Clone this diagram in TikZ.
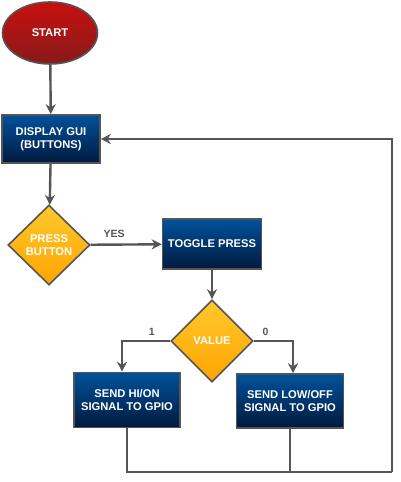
\documentclass[tikz,border=0pt]{standalone}
\usepackage{fontspec}
\setmainfont{Liberation Sans}
\definecolor{lineGray}{RGB}{85, 85, 85}
\definecolor{startTop}{RGB}{200, 16, 16}
\definecolor{startBot}{RGB}{135, 26, 26}
\definecolor{boxTop}{RGB}{0, 82, 156}
\definecolor{boxBot}{RGB}{0, 26, 62}
\definecolor{decTop}{RGB}{255, 200, 45}
\definecolor{decBot}{RGB}{255, 165, 0}
\usetikzlibrary{shapes.geometric, arrows.meta, positioning}

\begin{document}
\begin{tikzpicture}[
        x=1pt, y=1pt,
        txt/.style={text=white, font=\fontsize{11.2}{13.2}\selectfont\bfseries, align=center},
        startnode/.style={txt, ellipse, draw=lineGray, line width=1.6pt,
                    top color=startTop, bottom color=startBot,
                    minimum width=95pt, minimum height=62pt, inner sep=0pt},
        procbox/.style={txt, draw=lineGray, line width=1.6pt,
                    top color=boxTop, bottom color=boxBot, inner sep=0pt},
        decision/.style={txt, diamond, draw=lineGray, line width=1.6pt,
                    top color=decTop, bottom color=decBot, inner sep=0pt},
        lbl/.style={text=lineGray, font=\fontsize{10.5}{12}\selectfont\bfseries},
        arrow/.style={-{Stealth[length=10pt, width=10pt]}, line width=2.4pt, draw=lineGray},
        wire/.style={line width=2.4pt, draw=lineGray}
    ]
        \useasboundingbox (0,0) rectangle (400,482);

        % Start and main loop entry
        \node[startnode] (start) at (50,449) {START};
        \node[procbox, minimum width=98pt, minimum height=48pt] (display) at (51,343)
            {DISPLAY GUI\\(BUTTONS)};

        % Button decision
        \node[decision, minimum width=82pt, minimum height=80pt] (press) at (49,237)
            {PRESS\\BUTTON};
        \node[procbox, minimum width=99pt, minimum height=50pt] (toggle) at (212,238)
            {TOGGLE PRESS};
        \node[decision, minimum width=82pt, minimum height=82pt] (value) at (212,141)
            {VALUE};

        % Output boxes
        \node[procbox, minimum width=106pt, minimum height=55pt] (sendhi) at (127,82)
            {SEND HI/ON\\SIGNAL TO GPIO};
        \node[procbox, minimum width=107pt, minimum height=54pt] (sendlow) at (290,81)
            {SEND LOW/OFF\\SIGNAL TO GPIO};

        \coordinate (corner) at (392,10);

        % Arrows
        \draw[arrow] (start) -- (display);
        \draw[arrow] (display) -- (press);
        \draw[arrow] (press) -- (toggle)
            node[lbl, midway, above, yshift=2pt, xshift=-12pt] {YES};
        \draw[arrow] (toggle) -- (value);
        \draw[arrow] (value.west) -| ([xshift=-5pt]sendhi.north)
            node[lbl, pos=0.19, above, yshift=1pt] {1};
        \draw[arrow] (value.east) -| ([xshift=3pt]sendlow.north)
            node[lbl, pos=0.15, above, yshift=1pt] {0};

        % Back to the GUI
        \draw[wire] (sendhi.south) |- (corner);
        \draw[wire] (sendlow.south) -- (sendlow.south |- corner);
        \draw[arrow] (corner) |- (display.east);
    \end{tikzpicture}
\end{document}
